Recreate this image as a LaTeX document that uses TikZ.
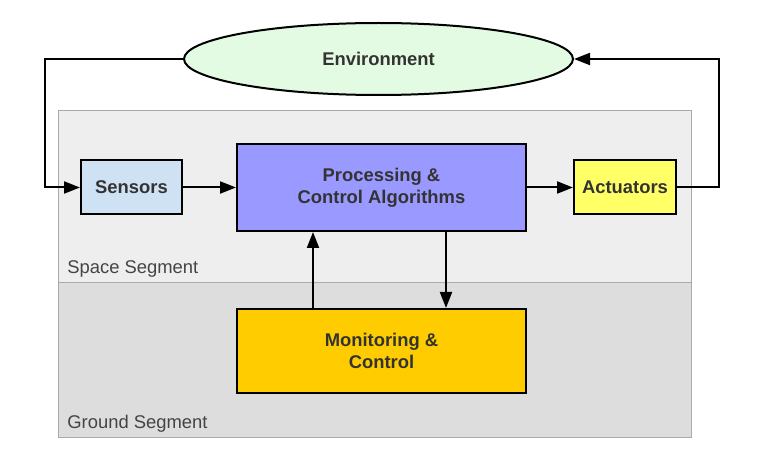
\documentclass[tikz,border=0pt]{standalone}
\usepackage{fontspec}
\setmainfont{Liberation Sans}
\usetikzlibrary{positioning,shapes.geometric,arrows.meta}

\definecolor{spacebg}{HTML}{EEEEEE}
\definecolor{groundbg}{HTML}{DDDDDD}
\definecolor{segline}{HTML}{AAAAAA}
\definecolor{sensfill}{HTML}{CFE2F3}
\definecolor{procfill}{HTML}{9999FF}
\definecolor{actfill}{HTML}{FFFF66}
\definecolor{monfill}{HTML}{FFCC00}
\definecolor{envfill}{HTML}{E2FBE2}
\definecolor{txt}{HTML}{333333}
\definecolor{segtxt}{HTML}{444444}

\tikzset{
  block/.style={draw=black, line width=1pt, rectangle, align=center,
    font=\fontsize{9.2pt}{11pt}\selectfont\bfseries, text=txt, inner sep=0pt},
  seglabel/.style={anchor=west, font=\fontsize{9.2pt}{11pt}\selectfont, text=segtxt, inner sep=0pt},
  segment/.style={draw=segline, line width=0.5pt},
  arr/.style={-{Triangle[length=8pt,width=6pt]}, line width=1pt},
}

\begin{document}
\begin{tikzpicture}[x=0.5pt,y=-0.5pt]
  \useasboundingbox (0,0) rectangle (767,460);

  % segments
  \draw[segment, fill=spacebg] (58,111) rectangle (691,283);
  \draw[segment, fill=groundbg] (58,283) rectangle (691,437);
  \node[seglabel] (space) at (67,269) {Space Segment};
  \node[seglabel] (ground) at (67,424) {Ground Segment};

  % blocks
  \node[block, fill=procfill, minimum width=144.5pt, minimum height=43.5pt] (proc) at (381.5,187.5)
    {Processing \&\\Control Algorithms};
  \node[block, fill=sensfill, minimum width=50.5pt, minimum height=27pt, left=26.5pt of proc] (sens) {Sensors};
  \node[block, fill=actfill, minimum width=51pt, minimum height=27pt, right=23pt of proc] (act) {Actuators};
  \node[block, fill=monfill, minimum width=144.5pt, minimum height=42pt, below=38pt of proc] (mon)
    {Monitoring \&\\Control};
  \node[block, ellipse, fill=envfill, minimum width=194.5pt, minimum height=36pt,
    above=23.5pt of proc, xshift=-1.5pt] (env) {Environment};

  % connectors
  \draw[arr] (env.west) -- ++(-69pt,0) |- (sens.west);
  \draw[arr] (sens) -- (proc);
  \draw[arr] (proc) -- (act);
  \draw[arr] (act.east) -- ++(21pt,0) |- (env.east);
  \draw[arr] ([xshift=-34.25pt]mon.north) -- ([xshift=-34.25pt]mon.north |- proc.south);
  \draw[arr] ([xshift=32.25pt]proc.south) -- ([xshift=32.25pt]proc.south |- mon.north);
\end{tikzpicture}
\end{document}
